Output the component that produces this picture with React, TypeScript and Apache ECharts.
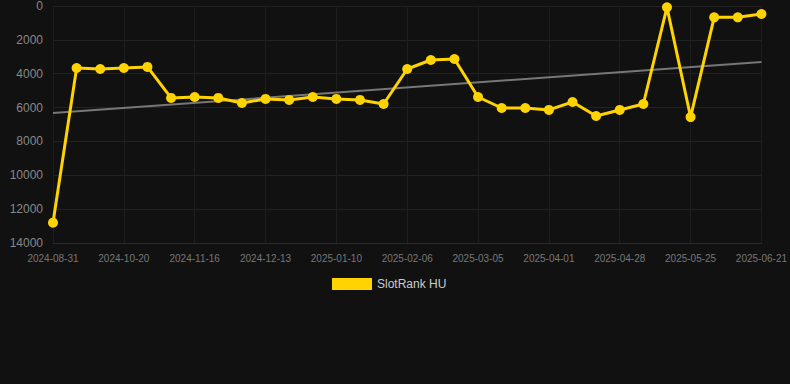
import React, { useEffect, useRef } from "react";
import * as echarts from "echarts";

const categories = [
  "2024-08-31", "2024-09-30", "2024-10-11", "2024-10-20", "2024-10-29", "2024-11-07",
  "2024-11-16", "2024-11-25", "2024-12-04", "2024-12-13", "2024-12-22", "2024-12-31",
  "2025-01-10", "2025-01-19", "2025-01-28", "2025-02-06", "2025-02-15", "2025-02-24",
  "2025-03-05", "2025-03-14", "2025-03-23", "2025-04-01", "2025-04-10", "2025-04-19",
  "2025-04-28", "2025-05-07", "2025-05-16", "2025-05-25", "2025-06-03", "2025-06-12",
  "2025-06-21",
];

const rankValues = [
  12800, 3660, 3720, 3660, 3600, 5430, 5375, 5430, 5730, 5490, 5550, 5375,
  5490, 5550, 5790, 3720, 3190, 3130, 5375, 6025, 6025, 6140, 5670, 6500,
  6140, 5790, 80, 6560, 670, 670, 470,
];

const trendStart = 6320;
const trendEnd = 3310;

const yTicks = { min: 0, max: 14000, interval: 2000 };

export default function App() {
  const ref = useRef<HTMLDivElement>(null);
  useEffect(() => {
    if (!ref.current) return;
    const chart = echarts.init(ref.current, null, { renderer: "svg" });
    const last = categories.length - 1;
    chart.setOption({
      animation: false,
      backgroundColor: "#111111",
      grid: { left: 53, right: 28, top: 6, bottom: 141, containLabel: false },
      legend: {
        bottom: 89,
        left: 327,
        data: ["SlotRank HU"],
        itemWidth: 40,
        itemHeight: 12,
        icon: "rect",
        textStyle: { color: "#cccccc", fontSize: 12, fontFamily: "Arial, Liberation Sans, sans-serif" },
      },
      xAxis: {
        type: "category",
        data: categories,
        boundaryGap: false,
        position: "bottom",
        axisLine: { show: true, onZero: false, lineStyle: { color: "#2a2a2a" } },
        axisTick: { show: false },
        axisLabel: {
          interval: 2,
          color: "#777777",
          fontSize: 10,
          margin: 10,
          fontFamily: "Arial, Liberation Sans, sans-serif",
        },
        splitLine: { show: true, interval: 2, lineStyle: { color: "#1e1e1e" } },
      },
      yAxis: {
        type: "value",
        inverse: true,
        min: yTicks.min,
        max: yTicks.max,
        interval: yTicks.interval,
        axisLine: { show: false },
        axisTick: { show: false },
        axisLabel: {
          color: "#888888",
          fontSize: 12,
          margin: 10,
          formatter: (v: number) => String(v),
          fontFamily: "Arial, Liberation Sans, sans-serif",
        },
        splitLine: { show: true, lineStyle: { color: "#222222" } },
      },
      series: [
        {
          name: "SlotRank HU",
          type: "line",
          data: rankValues,
          color: "#ffd300",
          lineStyle: { width: 3, color: "#ffd300" },
          itemStyle: { color: "#ffd300" },
          symbol: "circle",
          symbolSize: 10,
          showSymbol: true,
          z: 3,
        },
        {
          name: "Trend",
          type: "line",
          data: [[0, trendStart], [last, trendEnd]],
          lineStyle: { width: 2, color: "#777777" },
          itemStyle: { color: "#777777" },
          symbol: "none",
          silent: true,
          z: 2,
        },
      ],
    });
    return () => chart.dispose();
  }, []);
  return <div ref={ref} style={{ width: 790, height: 384, position: "absolute", left: 0, top: 0 }} />;
}
